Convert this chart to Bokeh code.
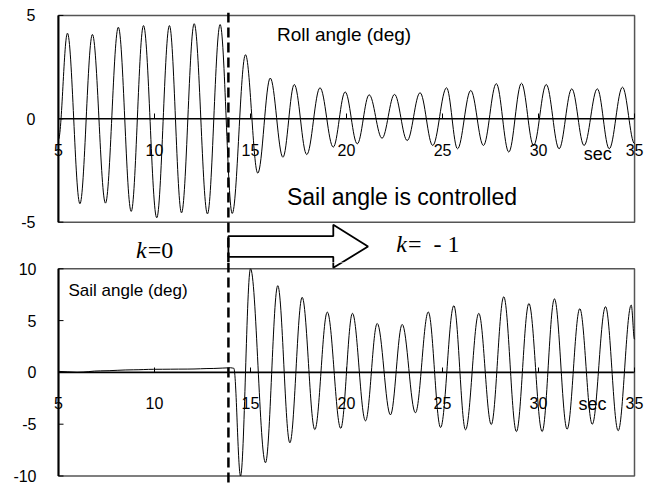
import numpy as np
from bokeh.plotting import figure
from bokeh.models import Range1d, FixedTicker, LinearAxis, Span, ColumnDataSource
from bokeh.layouts import column
from bokeh.embed import file_html
from bokeh.resources import INLINE
from bokeh.core.properties import value

# ---------------- data ----------------
# Roll angle (deg): extrema of the oscillation, time in sec
roll_t = [5.0, 5.47, 6.12, 6.77, 7.45, 8.12, 8.79, 9.43, 10.12, 10.78, 11.41, 12.07,
          12.76, 13.42, 14.05, 14.74, 15.38, 16.03, 16.69, 17.28, 17.93, 18.62, 19.31,
          19.93, 20.56, 21.18, 21.85, 22.5, 23.16, 23.83, 24.49, 25.21, 25.78, 26.47,
          27.13, 27.8, 28.45, 29.11, 29.74, 30.4, 31.07, 31.73, 32.37, 33.06, 33.68,
          34.37, 35.0]
roll_v = [-1.0, 4.14, -4.11, 4.08, -4.08, 4.43, -4.48, 4.51, -4.79, 4.51, -4.55, 4.6,
          -4.6, 4.56, -4.58, 3.1, -2.63, 1.97, -1.86, 1.66, -1.73, 1.5, -1.37,
          1.3, -1.21, 1.16, -0.94, 1.18, -1.05, 1.26, -1.29, 1.5, -1.45, 1.37,
          -1.29, 1.7, -1.61, 1.72, -1.29, 1.66, -1.45, 1.45, -1.29, 1.45, -1.45,
          1.53, -1.2]

# Sail angle (deg)
sail_t = [5.0, 5.97, 7.19, 8.92, 9.96, 11.7, 13.09, 13.96, 14.13, 14.48, 15.0, 15.78,
          16.42, 17.05, 17.69, 18.35, 19.0, 19.7, 20.31, 20.99, 21.6, 22.29, 22.9,
          23.59, 24.26, 24.9, 25.59, 26.2, 26.89, 27.54, 28.19, 28.85, 29.5, 30.19,
          30.83, 31.49, 32.15, 32.8, 33.49, 34.15, 34.83, 35.0]
sail_v = [0.1, 0.0, 0.15, 0.25, 0.3, 0.32, 0.38, 0.45, 0.4, -10.0, 10.0, -8.72,
          8.37, -6.8, 7.25, -5.52, 5.82, -5.4, 5.7, -4.68, 4.72, -4.1, 4.63,
          -3.9, 5.83, -5.32, 6.44, -5.54, 5.7, -5.03, 7.3, -5.71, 6.65, -5.71,
          7.1, -5.48, 6.15, -5.0, 6.34, -5.63, 6.5, 3.2]

x_ticks = [5, 10, 15, 20, 25, 30, 35]
roll_ticks = [-5, 0, 5]
sail_ticks = [-10, -5, 0, 5, 10]
switch_t = 13.85  # time when sail angle control starts (k=0 -> k=-1)

# ---------------- layout constants (pixels, canvas == page coords) ----------------
W = 657
SPLIT = 262
TOP_H, BOT_H = SPLIT, 484 - SPLIT
T_PX_PER_UNIT = 20.67
T_ZERO_PX = 118.3
T_PX_PER_S = 580 / 30.0
B_PX_PER_UNIT = 10.36
B_ZERO_PX = 371.9
B_PX_PER_S = 576 / 30.0
PAD = 12  # frame extends beyond the box so the end tick labels are not clipped

SANS_NAME = "Liberation Sans"
SANS = value(SANS_NAME)
SERIF = value("Liberation Serif")
NB = "\u00a0"


def top_val(px):
    return (T_ZERO_PX - px) / T_PX_PER_UNIT


def bot_val(px):
    return (B_ZERO_PX - px) / B_PX_PER_UNIT


def top_t(px):
    return x_ticks[0] + (px - 55) / T_PX_PER_S


def bot_t(px):
    return x_ticks[0] + (px - 58) / B_PX_PER_S


def smooth_source(ts, vs, k=0.36):
    t0 = np.array(ts[:-1], dtype=float)
    t1 = np.array(ts[1:], dtype=float)
    v0 = np.array(vs[:-1], dtype=float)
    v1 = np.array(vs[1:], dtype=float)
    dt = t1 - t0
    return ColumnDataSource(dict(x0=t0, y0=v0, x1=t1, y1=v1,
                                 cx0=t0 + k * dt, cy0=v0, cx1=t1 - k * dt, cy1=v1))


def make_fig(height, left_px, right_px, px_per_s, y_range, ticks, border_top, label_gap):
    frame_left = left_px - PAD
    frame_w = (right_px - left_px) + 2 * PAD
    p = figure(width=W, height=height,
               x_range=Range1d(x_ticks[0] - PAD / px_per_s, x_ticks[-1] + PAD / px_per_s),
               y_range=Range1d(*y_range),
               output_backend="svg", toolbar_location=None,
               x_axis_location=None, y_axis_location=None,
               min_border_left=frame_left, min_border_right=W - frame_left - frame_w,
               min_border_top=border_top, min_border_bottom=0)
    p.outline_line_color = None
    p.background_fill_color = "white"
    p.border_fill_color = "white"
    p.grid.visible = False

    # x axis sits on the zero line, labels below it
    xa = LinearAxis(ticker=FixedTicker(ticks=x_ticks), fixed_location=0)
    xa.axis_line_color = None
    xa.major_tick_in = 5
    xa.major_tick_out = 0
    xa.major_tick_line_color = "black"
    xa.minor_tick_line_color = None
    xa.major_label_standoff = 25
    xa.major_label_text_font = SANS_NAME
    xa.major_label_text_font_size = "16px"
    xa.major_label_text_color = "black"
    p.add_layout(xa, "below")
    p.segment(x0=[x_ticks[0]], y0=[0], x1=[x_ticks[-1]], y1=[0],
              line_color="black", line_width=1.6)

    ya = LinearAxis(ticker=FixedTicker(ticks=ticks),
                    major_label_overrides={t: str(t) for t in ticks})
    ya.axis_line_color = None
    ya.major_tick_line_color = None
    ya.minor_tick_line_color = None
    ya.major_label_standoff = label_gap - PAD
    ya.major_label_text_font = SANS_NAME
    ya.major_label_text_font_size = "16px"
    ya.major_label_text_color = "black"
    p.add_layout(ya, "left")

    # box around the panel
    p.quad(left=x_ticks[0], right=x_ticks[-1], bottom=ticks[0], top=ticks[-1],
           fill_color=None, line_color="#555555", line_width=1.5)
    p.segment(x0=x_ticks[0], y0=ticks[0], x1=x_ticks[0], y1=ticks[-1],
              line_color="black", line_width=2)
    # short inward ticks on the value axis
    n = len(ticks)
    p.segment(x0=[x_ticks[0]] * n, y0=ticks, x1=[x_ticks[0] + 5 / px_per_s] * n, y1=ticks,
              line_color="black", line_width=1)
    return p


def label(p, x, y, txt, size, font=SANS, style="normal", align="left"):
    p.text(x=[x], y=[y], text=[txt], text_font=font, text_font_style=style,
           text_font_size=size, text_align=align, text_baseline="middle",
           text_color="black")


# ---------------- top figure: roll angle ----------------
top_yr = (top_val(SPLIT), top_val(12))
pt = make_fig(TOP_H, 55, 635, T_PX_PER_S, top_yr, roll_ticks, 12, 17)
pt.bezier(x0="x0", y0="y0", x1="x1", y1="y1", cx0="cx0", cy0="cy0", cx1="cx1", cy1="cy1",
          source=smooth_source(roll_t, roll_v), line_color="black", line_width=1)

label(pt, top_t(275), top_val(33.5), "Roll angle (deg)", "19px")
label(pt, top_t(285), top_val(196), "Sail angle is controlled", "23px")
label(pt, top_t(598), top_val(153.5), "sec", "18px", align="center")

arrow_x = [switch_t, top_t(331.7), top_t(331.7), top_t(366.7), top_t(331.7), top_t(331.7), switch_t]
arrow_px = [235.7, 235.7, 224.3, 246.0, 267.3, 256.3, 256.3]
pt.patch(x=arrow_x, y=[top_val(v) for v in arrow_px], fill_color="white",
         line_color="black", line_width=1.8)

label(pt, top_t(133), top_val(249), "k", "24px", font=SERIF, style="italic")
label(pt, top_t(145), top_val(249), "=0", "24px", font=SERIF)
label(pt, top_t(395), top_val(243), "k", "24px", font=SERIF, style="italic")
label(pt, top_t(407), top_val(243), "=" + NB + NB + "-" + NB + "1", "24px", font=SERIF)

pt.add_layout(Span(location=switch_t, dimension="height", line_color="black",
                   line_width=2.5, line_dash="10 5"))

# ---------------- bottom figure: sail angle ----------------
bot_yr = (bot_val(484), bot_val(SPLIT))
pb = make_fig(BOT_H, 58, 634, B_PX_PER_S, bot_yr, sail_ticks, 0, 16)
pb.bezier(x0="x0", y0="y0", x1="x1", y1="y1", cx0="cx0", cy0="cy0", cx1="cx1", cy1="cy1",
          source=smooth_source(sail_t, sail_v), line_color="black", line_width=1)
pb.patch(x=arrow_x, y=[bot_val(v) for v in arrow_px], fill_color="white",
         line_color="black", line_width=1.8)
label(pb, bot_t(68), bot_val(290), "Sail angle (deg)", "17px")
label(pb, bot_t(592), bot_val(403.5), "sec", "18px", align="center")
pb.add_layout(Span(location=switch_t, dimension="height", line_color="black",
                   line_width=2.5, line_dash="10 5"))

layout = column(pt, pb, spacing=0)
open("out.html", "w").write(file_html(layout, INLINE))
